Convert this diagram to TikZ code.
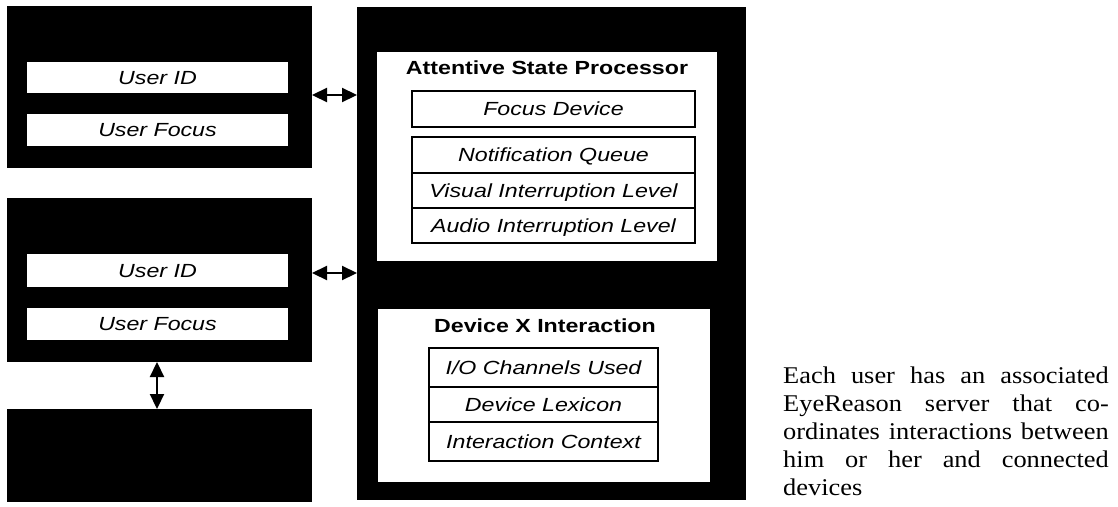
\documentclass[tikz,border=0pt]{standalone}
\usepackage{fontspec}
\setmainfont{Liberation Serif}
\setsansfont{Liberation Sans}
\usetikzlibrary{arrows.meta}
% horizontally widened sans labels
\newcommand{\wide}[1]{\scalebox{1.22}[1]{#1}}
\begin{document}
\begin{tikzpicture}[x=1pt,y=-1pt,
  blk/.style={fill=black, draw=none, inner sep=0pt, outer sep=0pt},
  panel/.style={fill=white, draw=none, inner sep=0pt, outer sep=0pt},
  slot/.style={fill=white, draw=none, inner sep=0pt, outer sep=0pt,
    font=\sffamily\itshape\fontsize{19}{22}\selectfont,
    text height=13.6pt, text depth=0pt},
  cell/.style={slot, draw=black, line width=1.4pt},
  ttl/.style={inner sep=0pt, font=\sffamily\bfseries\fontsize{19}{22}\selectfont,
    text height=13.6pt, text depth=0pt},
  link/.style={line width=2.2pt,
    {Triangle[length=15pt,width=14pt]}-{Triangle[length=15pt,width=14pt]}},
]
\useasboundingbox (0,0) rectangle (1118,506);
\fill[white] (0,0) rectangle (1118,506);

% user record boxes
\node[blk, minimum width=305pt, minimum height=162pt] (u1) at (159.5,87) {};
\node[slot, minimum width=261pt, minimum height=31pt] (u1id) at (157.5,77.5) {\wide{User ID}};
\node[slot, minimum width=261pt, minimum height=32pt] (u1fo) at (157.5,130) {\wide{User Focus}};

\node[blk, minimum width=305pt, minimum height=164pt] (u2) at (159.5,280) {};
\node[slot, minimum width=261pt, minimum height=33pt] (u2id) at (157.5,270.5) {\wide{User ID}};
\node[slot, minimum width=261pt, minimum height=32pt] (u2fo) at (157.5,324) {\wide{User Focus}};

\node[blk, minimum width=305pt, minimum height=93pt] (u3) at (159.5,455.5) {};

% EyeReason server
\node[blk, minimum width=389pt, minimum height=493pt] (srv) at (551.5,253.5) {};

\node[panel, minimum width=340pt, minimum height=209pt] (asp) at (547,156.5) {};
\node[ttl] (asptitle) at (547,67.5) {\wide{Attentive State Processor}};
\node[cell, minimum width=283pt, minimum height=36pt] (fd) at (553.5,109) {\wide{Focus Device}};
\node[cell, minimum width=283pt, minimum height=36pt] (nq) at (553.5,155) {\wide{Notification Queue}};
\node[cell, minimum width=283pt, minimum height=35pt] (vil) at (553.5,190.5) {\wide{Visual Interruption Level}};
\node[cell, minimum width=283pt, minimum height=35pt] (ail) at (553.5,225.5) {\wide{Audio Interruption Level}};

\node[panel, minimum width=332pt, minimum height=173pt] (dev) at (544,395.5) {};
\node[ttl] (devtitle) at (545,325.5) {\wide{Device X Interaction}};
\node[cell, minimum width=229pt, minimum height=39pt] (io) at (543.5,367.5) {\wide{I/O Channels Used}};
\node[cell, minimum width=229pt, minimum height=35pt] (lex) at (543.5,404.5) {\wide{Device Lexicon}};
\node[cell, minimum width=229pt, minimum height=39pt] (ctx) at (543.5,441.5) {\wide{Interaction Context}};

% connectors
\draw[link] ([yshift=-8pt]u1.east) -- ([yshift=-8pt]u1.east -| srv.west);
\draw[link] ([yshift=7pt]u2.east) -- ([yshift=7pt]u2.east -| srv.west);
\draw[link] ([xshift=-2.5pt]u2.south) -- ([xshift=-2.5pt]u3.north);

% caption
\node[anchor=base west, inner sep=0pt] (cap) at (783,383) {\scalebox{1.1}[1]{%
  \parbox[t]{296pt}{\fontsize{24}{28}\selectfont
    \makebox[296pt][s]{Each user has an associated}\\
    \makebox[296pt][s]{EyeReason server that co-}\\
    \makebox[296pt][s]{ordinates interactions between}\\
    \makebox[296pt][s]{him or her and connected}\\
    devices}}};
\end{tikzpicture}
\end{document}
